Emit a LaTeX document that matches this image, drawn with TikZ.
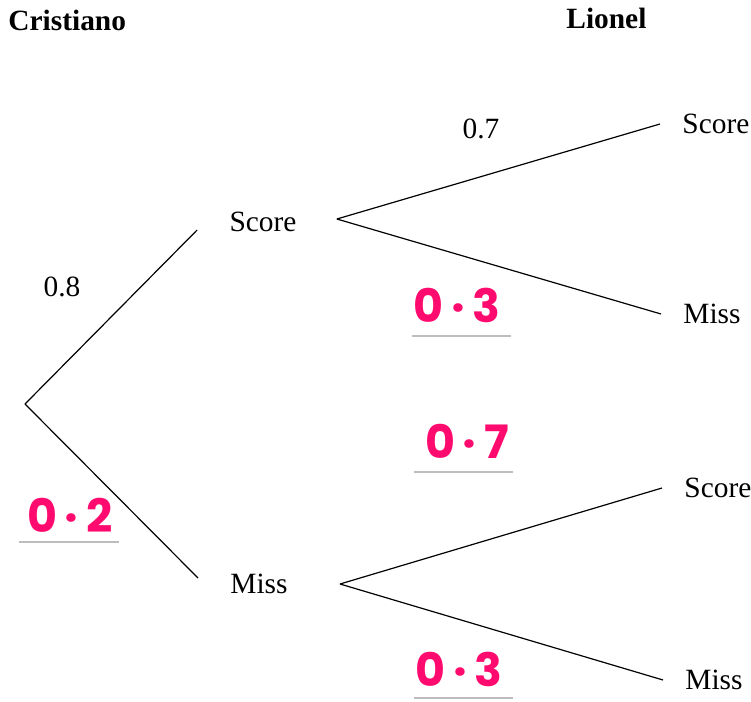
\documentclass[tikz,border=0pt]{standalone}
\usepackage{fontspec}
\setmainfont{Liberation Serif}
\newfontfamily\handfont{Poppins}
\usetikzlibrary{positioning}
\definecolor{inkpink}{HTML}{FF0A6E}
\definecolor{rulegray}{HTML}{BDBDBD}

\begin{document}
\begin{tikzpicture}[
    x=0.5pt, y=-0.5pt,
    every node/.style={font=\fontsize{14.7}{17}\selectfont},
    player/.style={font=\fontsize{14.7}{17}\selectfont\bfseries, anchor=west, inner sep=0pt},
    outcome/.style={inner xsep=16pt, inner ysep=2pt},
    leaf/.style={anchor=west, inner xsep=11pt, inner ysep=2pt},
    prob/.style={inner sep=0pt},
    hand/.style={text=inkpink, font=\handfont\bfseries\fontsize{23}{26}\selectfont, inner sep=0pt},
    branch/.style={draw=black, line width=0.6pt},
    underline/.style={draw=rulegray, line width=1.4pt}
]
\useasboundingbox (0,0) rectangle (751,702);

% Players
\node[player] (cris) at (8,20) {Cristiano};
\node[player] (lion) at (566,18) {Lionel};

% First shot
\coordinate (root) at (25,404);
\node[outcome] (sc) at (263,222) {Score};
\node[outcome] (ms) at (259,584) {Miss};

% Second shot
\node[leaf] (scsc) at (660,124) {Score};
\node[leaf] (scms) at (661,314) {Miss};
\node[leaf] (mssc) at (662,488) {Score};
\node[leaf] (msms) at (663,680) {Miss};

% Branches
\draw[branch] (root) -- ([yshift=-4pt]sc.west);
\draw[branch] (root) -- ([yshift=3pt]ms.west);
\draw[branch] ([xshift=4pt,yshift=1.5pt]sc.east) -- (scsc.west);
\draw[branch] ([xshift=4pt,yshift=1.5pt]sc.east) -- (scms.west);
\draw[branch] ([xshift=10pt]ms.east) -- (mssc.west);
\draw[branch] ([xshift=10pt]ms.east) -- (msms.west);

% Printed probabilities
\node[prob] (p08) at (62,287) {0.8};
\node[prob] (p07) at (481,129) {0.7};

% Handwritten probabilities
\node[hand] (h02) at (70,515) {0\,·\,2};
\node[hand] (h03a) at (457,305) {0\,·\,3};
\node[hand] (h07) at (467,441) {0\,·\,7};
\node[hand] (h03b) at (459,669) {0\,·\,3};

\draw[underline] (19,542) -- (119,542);
\draw[underline] (412,336) -- (511,336);
\draw[underline] (414,472) -- (513,472);
\draw[underline] (414,698) -- (513,698);

\end{tikzpicture}
\end{document}
